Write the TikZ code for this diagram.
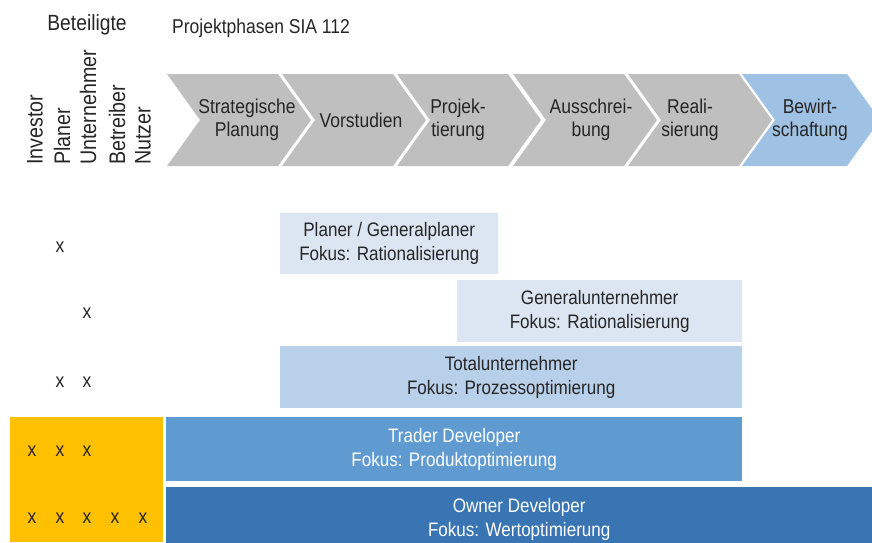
\documentclass[tikz,border=0pt]{standalone}
\usepackage{fontspec}
\setmainfont[FakeStretch=0.875]{Liberation Sans}
\usetikzlibrary{positioning}
\definecolor{phasegray}{HTML}{BFBFBF}
\definecolor{phaseblue}{HTML}{9FC1E3}
\definecolor{boxpale}{HTML}{DCE6F2}
\definecolor{boxlight}{HTML}{B9D0EA}
\definecolor{boxmid}{HTML}{5F9BD1}
\definecolor{boxdark}{HTML}{3875B2}
\definecolor{investyellow}{HTML}{FFC000}
\definecolor{inktext}{HTML}{262626}

\begin{document}
\begin{tikzpicture}[x=1pt, y=-1pt]
                \tikzset{phase/.style={text=inktext, align=center, font=\fontsize{20}{23}\selectfont},
                         role/.style={rotate=90, anchor=west, inner sep=0pt, text=inktext, font=\fontsize{22.5}{24}\selectfont},
                         cross/.style={inner sep=0pt, text=inktext, font=\fontsize{20}{22}\selectfont},
                         block/.style={anchor=north west, align=center, inner sep=0pt, text=inktext, font=\fontsize{19.5}{24}\selectfont}}
                \useasboundingbox (0,0) rectangle (872,542);
                % headers
                \node[text=inktext, font=\fontsize{22}{24}\selectfont] (beteiligte) at (87,25) {Beteiligte};
                \node[text=inktext, anchor=west, inner sep=0pt, font=\fontsize{20}{22}\selectfont] (phasen) at (172,28) {Projektphasen SIA 112};
                % chevrons
                \foreach \x/\w/\col in {167/111/phasegray, 282/111/phasegray, 397/111/phasegray,
                                        513/111/phasegray, 628/111/phasegray, 742/105/phaseblue}
                    \fill[\col] (\x,74) -- ++(\w,0) -- ++(33,46) -- ++(-33,46) -- ++(-\w,0) -- ++(33,-46) -- cycle;
                \node[phase] (strat) at (247,120) {Strategische\\Planung};
                \node[phase] (vor) at (361,120) {Vorstudien};
                \node[phase] (proj) at (458,120) {Projek-\\tierung};
                \node[phase] (aus) at (591,120) {Ausschrei-\\bung};
                \node[phase] (real) at (690,120) {Reali-\\sierung};
                \node[phase] (bew) at (810,120) {Bewirt-\\schaftung};
                % roles
                \node[role] (investor) at (35,165) {Investor};
                \node[role] (planer) at (62,165) {Planer};
                \node[role] (unternehmer) at (88,165) {Unternehmer};
                \node[role] (betreiber) at (117,165) {Betreiber};
                \node[role] (nutzer) at (143,165) {Nutzer};
                % models
                \node[block, fill=investyellow, minimum width=153pt, minimum height=125pt] (invest) at (10,417) {};
                \node[block, fill=boxpale, minimum width=218pt, minimum height=61pt] (gp) at (280,213)
                    {Planer / Generalplaner\\Fokus: Rationalisierung};
                \node[block, fill=boxpale, minimum width=285pt, minimum height=62pt] (gu) at (457,280)
                    {Generalunternehmer\\Fokus: Rationalisierung};
                \node[block, fill=boxlight, minimum width=462pt, minimum height=62pt] (tu) at (280,346)
                    {Totalunternehmer\\Fokus: Prozessoptimierung};
                \node[block, fill=boxmid, text=white, minimum width=576pt, minimum height=64pt] (trader) at (166,417)
                    {Trader Developer\\Fokus: Produktoptimierung};
                \node[block, fill=boxdark, text=white, minimum width=706pt, minimum height=64pt] (owner) at (166,487)
                    {Owner Developer\\Fokus: Wertoptimierung};
                % crosses
                \foreach \x/\y [count=\i] in {60/247, 87/313, 60/382, 87/382, 32/451, 60/451, 87/451,
                                              32/518, 60/518, 87/518, 115/518, 143/518}
                    \node[cross] (x\i) at (\x,\y) {x};
            \end{tikzpicture}
\end{document}
